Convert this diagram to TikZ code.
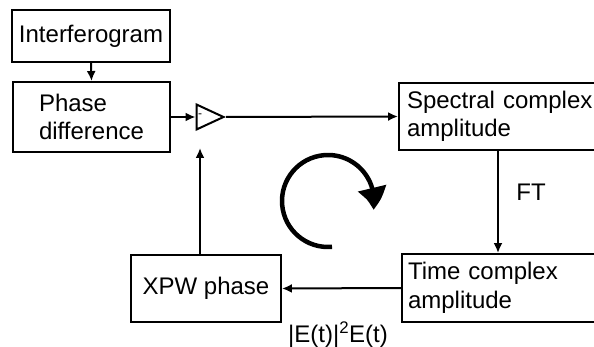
\documentclass[tikz,border=0pt]{standalone}
\usepackage{fontspec}
\setmainfont{Liberation Sans}
\usetikzlibrary{positioning,shapes.geometric,arrows.meta,bending}

\tikzset{
  block/.style={draw, line width=1.9pt, inner sep=0pt},
  flow/.style={line width=2pt, -{Latex[length=10pt,width=9pt]}},
}

\begin{document}
\begin{tikzpicture}[x=1pt,y=-1pt, font=\fontsize{24}{28.5}\selectfont]
	  \useasboundingbox (0,0) rectangle (594,347);
	  \node (interf) [block, minimum width=158, minimum height=52] at (91,36) {Interferogram};
	  \node (phase) [block, minimum width=157, minimum height=70, align=left] at (91.5,117) {Phase\\difference};
	  \node (sub) [isosceles triangle, isosceles triangle stretches, draw, line width=2pt, minimum width=25, minimum height=27, inner sep=0pt] at (204.5,117) {};
	  \node (minus) at (200,116) {\fontsize{12}{12}\selectfont -};
	  \node (spec) [block, text width=190, inner xsep=8pt, minimum height=67, align=left] at (502,116.5) {Spectral complex\\amplitude};
	  \node (time) [block, text width=190, inner xsep=6pt, minimum height=68, align=left] at (503,288) {Time complex\\amplitude};
	  \node (xpw) [block, minimum width=150, minimum height=67] at (206,288.5) {XPW phase};
	  \node (ft) at (531,192) {FT};
	  \node (kerr) at (338,335) {|E(t)|\textsuperscript{2}E(t)};
	  \coordinate (down) at (498,0);
	  \coordinate (fb) at (200,148);
	  \coordinate (loop) at (328,201);
	  \draw[flow] (interf.south) -- (phase.north);
	  \draw[flow] (phase.east) -- (sub);
	  \draw[flow] (sub.apex) -- (spec.west);
	  \draw[flow] (spec.south -| down) -- (time.north -| down);
	  \draw[flow] (time.west) -- (xpw.east);
	  \draw[flow] (xpw.north -| fb) -- (fb);
	  \draw[line width=4.5pt, -{Triangle[length=22pt,width=28pt,bend]}] (loop) ++(85:46) arc[start angle=85, end angle=371, radius=46];
	\end{tikzpicture}
\end{document}
